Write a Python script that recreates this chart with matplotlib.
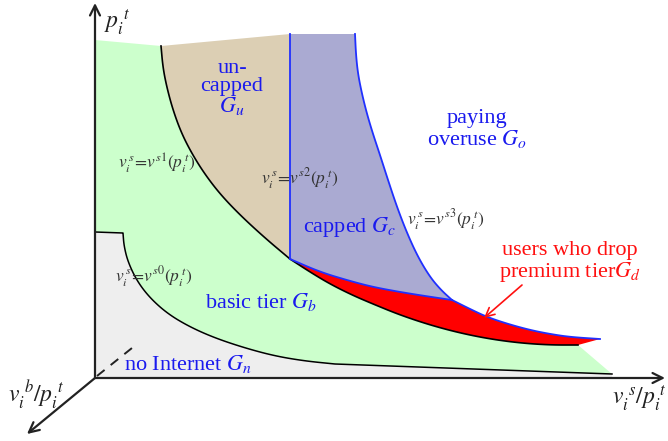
import matplotlib.pyplot as plt
import numpy as np

plt.rcParams['font.family'] = ['Liberation Serif', 'DejaVu Serif']
plt.rcParams['mathtext.fontset'] = 'stix'

# Boundary curves of the user regions (diagram coordinates, y grows downward)
curve_s0 = [(123, 233), (124, 246), (128, 262), (137, 281), (150, 298), (168, 314),
            (190, 327), (215, 338), (245, 348), (275, 356), (305, 361), (335, 364)]
line_s0 = [(95, 232), (123, 233)]
floor_s0 = [(335, 364), (612, 374)]
curve_s1 = [(161, 46), (163, 68), (167, 88), (173, 110), (181, 132), (191, 152), (204, 173),
            (220, 194), (240, 215), (265, 238), (290, 259)]
curve_s3 = [(355, 34), (356, 55), (358, 74), (362, 94), (367, 114), (373, 134), (380, 155),
            (388, 180), (397, 207), (407, 233), (418, 257), (430, 277), (441, 290), (452, 300)]
tail_s3 = [(452, 300), (470, 309), (487, 317), (508, 324), (530, 330), (550, 334), (570, 337), (600, 339)]
drop_top = [(290, 259), (320, 272), (350, 281), (373, 287), (400, 292), (425, 296), (452, 300)]
drop_bottom = [(290, 259), (310, 272), (330, 284), (352, 295), (373, 304), (400, 315), (430, 325),
               (460, 333), (490, 339), (520, 343), (550, 345), (578, 345)]
cap_x = 290
top_y = 34


def smooth(pts, rounds=3):
    # corner cutting so the polylines read as curves; end points are kept
    a = np.array(pts, dtype=float)
    for _ in range(rounds):
        q = 0.75 * a[:-1] + 0.25 * a[1:]
        r = 0.25 * a[:-1] + 0.75 * a[1:]
        mid = np.empty((2 * len(q), 2))
        mid[0::2] = q
        mid[1::2] = r
        a = np.vstack([a[:1], mid, a[-1:]])
    return [tuple(p) for p in a]


curve_s0 = smooth(curve_s0)
curve_s1 = smooth(curve_s1)
curve_s3 = smooth(curve_s3)
tail_s3 = smooth(tail_s3)
drop_top = smooth(drop_top)
drop_bottom = smooth(drop_bottom)

fig = plt.figure(figsize=(6.68, 4.41), dpi=100)
ax = fig.add_axes([0, 0, 1, 1])
ax.set_xlim(0, 668)
ax.set_ylim(441, 0)
ax.axis('off')


def xy(pts):
    a = np.array(pts, dtype=float)
    return a[:, 0], a[:, 1]


# basic tier G_b
green = [(95, 40)] + curve_s1 + drop_bottom[1:] + [(612, 374), (612, 378), (95, 378)]
ax.fill(*xy(green), color='#ccffcc', lw=0)

# no Internet G_n
gray = line_s0 + curve_s0[1:] + floor_s0[1:] + [(612, 378), (95, 378)]
ax.fill(*xy(gray), color='#eeeeee', lw=0)

# uncapped G_u
tan = curve_s1 + [(cap_x, 259), (cap_x, top_y)]
ax.fill(*xy(tan), color='#dccfb4', lw=0)

# capped G_c
purple = [(cap_x, top_y)] + curve_s3 + drop_top[::-1]
ax.fill(*xy(purple), color='#aaaad2', lw=0)

# users who drop premium tier G_d
red = drop_top + tail_s3[1:] + drop_bottom[::-1]
ax.fill(*xy(red), color='#ff0000', lw=0)

# boundary lines
ax.plot(*xy(line_s0 + curve_s0[1:] + floor_s0[1:]), color='black', lw=1.1)
ax.plot(*xy(curve_s1), color='black', lw=1.2)
ax.plot(*xy(drop_bottom), color='black', lw=1.2)
ax.plot([cap_x, cap_x], [top_y, 259], color='#2030ff', lw=1.3)
ax.plot(*xy(curve_s3), color='#2030ff', lw=1.3)
ax.plot(*xy(tail_s3), color='#2030ff', lw=1.3)
ax.plot(*xy(drop_top), color='#2030ff', lw=1.3)

# axes
arrow = dict(arrowstyle='->', color='#222222', lw=1.6, mutation_scale=18, shrinkA=0, shrinkB=0)
ax.annotate('', xy=(95, 3), xytext=(95, 378), arrowprops=arrow)
ax.annotate('', xy=(665, 378), xytext=(95, 378), arrowprops=arrow)
ax.annotate('', xy=(27, 434), xytext=(95, 378), arrowprops=arrow)
ax.plot([97, 132], [376, 348], color='#222222', lw=1.4, ls=(0, (5, 4)))

ax.text(104, 22, r'$p_i^{\ t}$', fontsize=17, ha='left', va='center', color='#222222')
ax.text(8, 395, r'$v_i^{\ b}/p_i^{\ t}$', fontsize=17, ha='left', va='center', color='#222222')
ax.text(612, 398, r'$v_i^{\ s}/p_i^{\ t}$', fontsize=17, ha='left', va='center', color='#222222')

# region labels
blue = '#1a1aee'
big = 16
ax.text(232, 88, 'un-\ncapped\n$G_u$', fontsize=big, color=blue, ha='center', va='center', linespacing=0.95)
ax.text(477, 129, 'paying\noveruse $G_o$', fontsize=big, color=blue, ha='center', va='center', linespacing=1.0)
ax.text(350, 227, 'capped $G_c$', fontsize=big, color=blue, ha='center', va='center')
ax.text(261, 302, 'basic tier $G_b$', fontsize=big, color=blue, ha='center', va='center')
ax.text(188, 364, 'no Internet $G_n$', fontsize=big, color=blue, ha='center', va='center')
ax.text(570, 263, 'users who drop\npremium tier$G_d$', fontsize=big, color='#ff1010', ha='center', va='center',
        linespacing=1.0)
ax.annotate('', xy=(484, 318), xytext=(522, 285),
            arrowprops=dict(arrowstyle='->', color='#ff1010', lw=1.2, mutation_scale=16, shrinkA=0, shrinkB=0))

# threshold curve labels
formula = dict(fontsize=12.5, color='#333333', ha='center', va='center')
ax.text(157, 163, r'$v_i^{\,s}\!=\!v^{s1}(p_i^{\,t})$', **formula)
ax.text(300, 179, r'$v_i^{\,s}\!=\!v^{s2}(p_i^{\,t})$', **formula)
ax.text(446, 220, r'$v_i^{\,s}\!=\!v^{s3}(p_i^{\,t})$', **formula)
ax.text(154, 277, r'$v_i^{\,s}\!=\!v^{s0}(p_i^{\,t})$', **formula)

fig.savefig('out.png', dpi=100)
